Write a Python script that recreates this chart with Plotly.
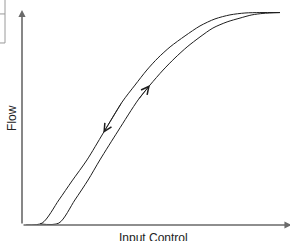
import plotly.graph_objects as go

# Hysteresis loop: Input Control (%) vs Flow (%)
closing_input = [1.6, 7.8, 14.3, 19.4, 25.2, 31.5, 38.8, 43.8, 48.4, 52.7, 57.4, 63.2, 69.0, 74.8, 80.6, 86.4, 92.2, 100.0]
closing_flow = [0.0, 0.9, 11.8, 20.8, 30.7, 43.4, 58.0, 66.0, 73.1, 78.8, 84.0, 89.2, 93.9, 97.2, 99.1, 100.0, 100.2, 100.2]

opening_input = [7.0, 14.3, 20.5, 25.6, 30.2, 37.2, 45.0, 49.6, 54.7, 59.3, 64.0, 69.0, 74.0, 79.5, 84.5, 89.1, 93.4, 100.0]
opening_flow = [0.5, 0.9, 11.8, 21.2, 30.7, 44.3, 59.0, 66.0, 73.1, 78.8, 84.0, 88.7, 92.9, 95.8, 97.6, 99.1, 99.8, 100.2]

x_title = "Input Control"
y_title = "Flow"

CURVE = "#1e1e1e"
AXIS = "#6a6a6a"

fig = go.Figure()
for xs, ys in [(closing_input, closing_flow), (opening_input, opening_flow)]:
    fig.add_trace(go.Scatter(x=xs, y=ys, mode="lines",
                             line=dict(color=CURVE, width=1, shape="spline", smoothing=0.8),
                             hoverinfo="skip", showlegend=False))

ann = []
# direction arrows on curves (from data points)
i = 5
ann.append(dict(x=closing_input[i], y=closing_flow[i], ax=closing_input[i + 1], ay=closing_flow[i + 1],
                xref="x", yref="y", axref="x", ayref="y", showarrow=True, text="",
                arrowhead=5, arrowsize=1.9, arrowwidth=0.8, arrowcolor=CURVE, standoff=0))
j = 7
ann.append(dict(x=opening_input[j], y=opening_flow[j], ax=opening_input[j - 1], ay=opening_flow[j - 1],
                xref="x", yref="y", axref="x", ayref="y", showarrow=True, text="",
                arrowhead=5, arrowsize=1.9, arrowwidth=0.8, arrowcolor=CURVE, standoff=0))
# axis arrows
ann.append(dict(x=0, y=0.956, ax=0, ay=0, xref="x domain", yref="y domain",
                axref="x domain", ayref="y domain", showarrow=True, text="",
                arrowhead=2, arrowsize=0.9, arrowwidth=1.6, arrowcolor=AXIS, standoff=0))
ann.append(dict(x=1.006, y=0, ax=0, ay=0, xref="x domain", yref="y domain",
                axref="x domain", ayref="y domain", showarrow=True, text="",
                arrowhead=2, arrowsize=0.9, arrowwidth=1.6, arrowcolor=AXIS, standoff=0))
# axis titles
ann.append(dict(x=0.5 - 0.01, y=-0.016, xref="x domain", yref="y domain", text=x_title,
                showarrow=False, xanchor="center", yanchor="top",
                font=dict(family="Liberation Sans, Arial, sans-serif", size=12, color="#222")))
ann.append(dict(x=-0.04, y=0.477, xref="x domain", yref="y domain", text=y_title, textangle=-90,
                showarrow=False, xanchor="center", yanchor="middle",
                font=dict(family="Liberation Sans, Arial, sans-serif", size=12, color="#222")))

shapes = [
    dict(type="line", xref="paper", yref="paper", x0=-0.0634, x1=-0.0634, y0=0.809, y1=1.01,
         line=dict(color="#9a9a9a", width=1)),
    dict(type="line", xref="paper", yref="paper", x0=-0.1, x1=-0.0634, y0=0.809, y1=0.809,
         line=dict(color="#9a9a9a", width=1)),
    dict(type="line", xref="paper", yref="paper", x0=-0.1, x1=-0.0634, y0=0.938, y1=0.938,
         line=dict(color="#9a9a9a", width=1)),
]

fig.update_layout(
    width=290, height=241,
    margin=dict(l=22, r=0, t=0, b=16),
    paper_bgcolor="white", plot_bgcolor="white",
    xaxis=dict(range=[0, 103.88], visible=False, fixedrange=True),
    yaxis=dict(range=[0, 106.13], visible=False, fixedrange=True),
    annotations=ann, shapes=shapes,
)

fig.write_html("out.html", config={"displayModeBar": False, "staticPlot": True},
               post_script="document.body.style.margin='0';document.body.style.overflow='hidden';")
